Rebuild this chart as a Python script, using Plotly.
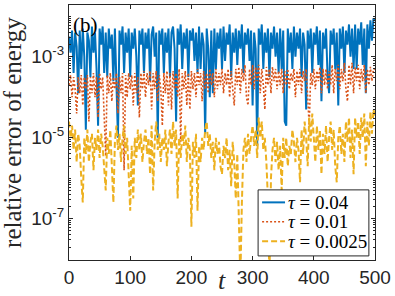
import plotly.graph_objects as go

# time grid: 0 to 500 step 2.5 (201 points)
t_start, t_step, n_pts = 0.0, 2.5, 201
t = [t_start + i * t_step for i in range(n_pts)]

# log10 of relative energy error
log_err_tau_004 = [
    -2.5, -2.9, -2.35, -3.4, -2.4, -2.75, -3.9, -2.35, -3.3, -2.3,
    -3.0, -4.8, -2.4, -2.6, -3.5, -2.25, -2.9, -2.4, -3.3, -4.7,
    -2.3, -2.7, -2.25, -3.4, -2.4, -3.5, -2.3, -2.8, -2.45, -3.6,
    -2.3, -3.6, -5.0, -2.35, -2.7, -2.25, -3.4, -2.4, -2.9, -2.3,
    -3.5, -2.4, -2.8, -2.3, -3.0, -4.2, -2.35, -2.7, -2.3, -3.4,
    -2.4, -2.8, -2.3, -3.6, -2.45, -2.25, -3.0, -2.4, -5.0, -2.35,
    -2.7, -2.3, -3.4, -2.4, -2.9, -2.3, -3.5, -2.4, -2.25, -2.8,
    -4.6, -2.3, -2.7, -2.2, -3.3, -2.4, -2.8, -2.3, -3.5, -2.35,
    -2.6, -2.3, -3.1, -2.4, -3.4, -2.25, -3.3, -2.4, -2.7, -4.9,
    -2.3, -2.8, -4.0, -2.35, -3.9, -2.3, -3.3, -2.4, -2.8, -2.3,
    -3.3, -2.25, -3.1, -2.4, -2.7, -2.2, -3.5, -2.4, -2.9, -2.3,
    -3.2, -2.35, -2.8, -2.2, -3.4, -2.4, -2.7, -2.3, -3.1, -2.35,
    -4.2, -2.4, -2.8, -5.2, -2.3, -2.7, -2.2, -3.3, -2.4, -2.9,
    -2.3, -3.5, -2.4, -2.8, -2.25, -3.0, -2.4, -3.4, -2.3, -3.3,
    -2.35, -4.6, -4.7, -2.3, -2.9, -2.4, -3.3, -2.25, -3.0, -2.4,
    -2.8, -2.3, -3.5, -2.4, -2.7, -4.3, -2.35, -2.8, -2.3, -3.4,
    -2.4, -2.7, -2.25, -3.2, -2.35, -4.1, -2.4, -2.8, -2.3, -3.5,
    -3.9, -2.35, -2.7, -2.3, -3.3, -2.4, -4.2, -2.3, -2.8, -2.25,
    -3.4, -2.35, -2.7, -2.2, -3.0, -2.3, -3.3, -2.2, -3.3, -2.3,
    -2.7, -2.15, -3.2, -2.3, -3.9, -2.2, -2.8, -2.1, -2.6, -2.05,
    -2.1,
]

log_err_tau_001 = [
    -3.7, -3.45, -4.0, -3.5, -3.8, -4.4, -3.5, -3.9, -3.45, -4.2,
    -3.5, -3.8, -3.45, -4.6, -3.5, -3.9, -3.4, -4.0, -3.5, -4.5,
    -3.4, -3.8, -3.5, -4.3, -5.45, -3.45, -3.9, -3.4, -4.1, -3.5,
    -3.8, -3.4, -4.4, -3.5, -3.9, -3.4, -5.8, -3.45, -4.0, -3.4,
    -3.8, -3.45, -4.2, -3.4, -3.9, -3.5, -4.5, -3.4, -3.8, -3.35,
    -4.0, -3.4, -3.7, -3.35, -4.3, -3.4, -3.8, -3.35, -4.1, -3.45,
    -3.8, -4.7, -3.4, -3.9, -3.35, -4.2, -3.4, -4.3, -3.35, -3.8,
    -3.4, -4.0, -3.3, -5.1, -3.4, -3.8, -3.35, -4.2, -3.4, -4.3,
    -3.35, -3.8, -3.4, -4.0, -3.3, -3.7, -3.4, -4.1, -3.35, -3.8,
    -3.4, -3.9, -3.3, -3.7, -3.4, -4.0, -3.3, -3.8, -3.4, -3.7,
    -3.3, -3.9, -3.4, -3.7, -3.3, -4.0, -3.35, -3.8, -4.2, -3.3,
    -3.7, -3.25, -3.9, -3.3, -3.6, -3.2, -4.0, -4.2, -3.3, -3.7,
    -3.2, -3.8, -3.25, -3.6, -3.2, -3.9, -3.3, -3.7, -4.3, -3.25,
    -3.7, -3.3, -3.9, -3.25, -3.6, -3.3, -3.8, -3.35, -3.7, -3.3,
    -3.9, -3.35, -3.7, -3.3, -3.8, -3.4, -3.6, -3.3, -4.0, -3.35,
    -3.7, -3.3, -3.9, -3.35, -3.6, -3.3, -4.1, -4.7, -3.4, -3.7,
    -3.3, -3.8, -3.35, -3.6, -3.25, -3.9, -3.3, -3.7, -3.3, -3.8,
    -3.35, -3.7, -3.2, -3.9, -3.3, -3.6, -3.2, -3.8, -3.3, -3.6,
    -3.15, -3.8, -4.1, -3.2, -3.7, -3.15, -3.9, -3.25, -3.6, -3.2,
    -3.8, -3.3, -3.6, -3.2, -3.9, -3.3, -3.7, -3.25, -3.6, -3.3,
    -3.3,
]

log_err_tau_00025 = [
    -4.6, -5.0, -4.7, -5.3, -4.8, -5.6, -4.9, -5.2, -6.0, -6.6,
    -5.0, -5.4, -4.8, -5.6, -5.1, -4.9, -5.8, -5.0, -5.3, -4.8,
    -5.5, -4.9, -5.2, -5.7, -6.3, -5.0, -5.4, -4.8, -5.9, -6.6,
    -5.1, -4.7, -5.3, -4.9, -5.6, -5.0, -4.7, -5.4, -5.0, -5.8,
    -6.8, -5.2, -6.5, -5.0, -5.5, -4.8, -5.3, -4.9, -5.6, -5.1,
    -4.8, -5.4, -5.0, -5.9, -4.7, -6.3, -5.1, -4.6, -5.3, -4.9,
    -5.6, -5.0, -5.3, -4.8, -5.7, -5.1, -4.8, -5.4, -4.6, -5.2,
    -4.8, -6.5, -5.0, -5.5, -4.9, -5.2, -4.7, -5.6, -5.0, -5.3,
    -7.2, -5.1, -5.5, -4.9, -6.8, -5.2, -5.6, -5.0, -5.3, -4.8,
    -4.6, -5.2, -4.9, -5.5, -5.1, -5.8, -5.0, -5.4, -5.1, -5.7,
    -5.9, -5.2, -5.5, -5.0, -5.8, -5.3, -6.2, -5.1, -5.6, -6.5,
    -5.4, -7.0, -8.5, -6.6, -5.3, -5.0, -5.6, -4.9, -5.4, -5.0,
    -4.7, -5.2, -4.8, -5.5, -4.5, -5.0, -4.6, -5.3, -5.0, -5.6,
    -6.5, -8.5, -6.0, -5.3, -5.0, -5.6, -5.1, -5.8, -5.2, -6.3,
    -5.0, -5.5, -5.0, -5.7, -5.2, -5.4, -4.8, -5.1, -5.6, -5.0,
    -5.3, -6.1, -4.8, -5.4, -4.6, -5.0, -5.7, -4.5, -5.1, -4.4,
    -5.0, -5.6, -4.7, -5.3, -4.8, -5.9, -4.9, -5.4, -4.7, -5.6,
    -5.0, -4.6, -5.3, -4.8, -5.7, -6.1, -5.0, -4.7, -5.4, -4.9,
    -5.6, -4.6, -5.1, -4.5, -5.5, -4.8, -5.9, -4.5, -5.0, -4.6,
    -5.4, -4.5, -5.0, -4.4, -5.7, -4.6, -5.2, -4.35, -4.9, -4.3,
    -4.5,
]

series_names = ["<i>τ</i> = 0.04", "<i>τ</i> = 0.01", "<i>τ</i> = 0.0025"]
x_tick_vals = [0, 100, 200, 300, 400, 500]
y_tick_vals = [1e-7, 1e-5, 1e-3]
y_tick_text = ["10<sup>-7</sup>", "10<sup>-5</sup>", "10<sup>-3</sup>"]

colors = ["#0072BD", "#D95319", "#EDB120"]
dashes = ["solid", "2px,2px", "6px,3px"]
widths = [2.0, 1.6, 2.0]

fig = go.Figure()
for name, logs, c, d, w in zip(series_names,
                               [log_err_tau_004, log_err_tau_001, log_err_tau_00025],
                               colors, dashes, widths):
    fig.add_trace(go.Scatter(
        x=t, y=[10 ** v for v in logs], mode="lines", name=name,
        line=dict(color=c, width=w, dash=d), showlegend=False,
    ))

axis_col = "#262626"
minor_vals = [m * 10 ** e for e in range(-9, -1) for m in range(1, 10)]

fig.update_layout(
    width=395, height=296,
    margin=dict(l=69, r=20, t=5, b=36),
    paper_bgcolor="white", plot_bgcolor="white",
    showlegend=False,
    font=dict(family="Liberation Sans", size=19, color=axis_col),
)

fig.update_xaxes(
    range=[0, 500], tickmode="array", tickvals=x_tick_vals,
    ticks="inside", ticklen=4, tickcolor=axis_col,
    showline=True, linecolor=axis_col, linewidth=1, mirror="allticks",
    showgrid=False, zeroline=False,
    tickfont=dict(family="Liberation Sans", size=19, color=axis_col),
)
fig.update_yaxes(
    type="log", range=[-8.02, -1.72], tickmode="array",
    tickvals=y_tick_vals, ticktext=y_tick_text,
    ticks="inside", ticklen=4, tickcolor=axis_col,
    showline=True, linecolor=axis_col, linewidth=1, mirror="allticks",
    showgrid=False, zeroline=False,
    minor=dict(tickmode="array", tickvals=minor_vals, ticks="inside",
               ticklen=2, tickcolor=axis_col, showgrid=False),
    tickfont=dict(family="Liberation Sans", size=19, color=axis_col),
)

fig.add_annotation(
    text="relative error of energy", xref="paper", yref="paper",
    x=-0.185, y=0.5, xanchor="center", yanchor="middle", textangle=-90,
    showarrow=False, font=dict(family="Liberation Serif", size=25, color=axis_col),
)
fig.add_annotation(
    text="<i>t</i>", xref="x", yref="paper", x=250, y=-0.082,
    xanchor="center", yanchor="middle", showarrow=False,
    font=dict(family="Liberation Serif", size=26, color=axis_col),
)
fig.add_annotation(
    text="(b)", xref="paper", yref="paper", x=0.053, y=0.92,
    xanchor="center", yanchor="middle", showarrow=False,
    font=dict(family="Liberation Serif", size=21, color="black"),
)

# legend box drawn by hand (MATLAB style)
leg_x0, leg_x1, leg_y0, leg_y1 = 0.618, 0.980, 0.016, 0.275
fig.add_shape(type="rect", xref="paper", yref="paper",
              x0=leg_x0, x1=leg_x1, y0=leg_y0, y1=leg_y1,
              line=dict(color=axis_col, width=1), fillcolor="white", layer="above")
row_y = [0.226, 0.150, 0.074]
for name, c, d, w, ry in zip(series_names, colors, dashes, widths, row_y):
    fig.add_shape(type="line", xref="paper", yref="paper",
                  x0=0.631, x1=0.706, y0=ry, y1=ry,
                  line=dict(color=c, width=w, dash=d), layer="above")
    fig.add_annotation(text=name, xref="paper", yref="paper", x=0.709, y=ry,
                       xanchor="left", yanchor="middle", showarrow=False,
                       font=dict(family="Liberation Serif", size=19, color="black"))

fig.write_html("out.html", config={"displayModeBar": False},
               post_script="document.body.style.margin='0';")
